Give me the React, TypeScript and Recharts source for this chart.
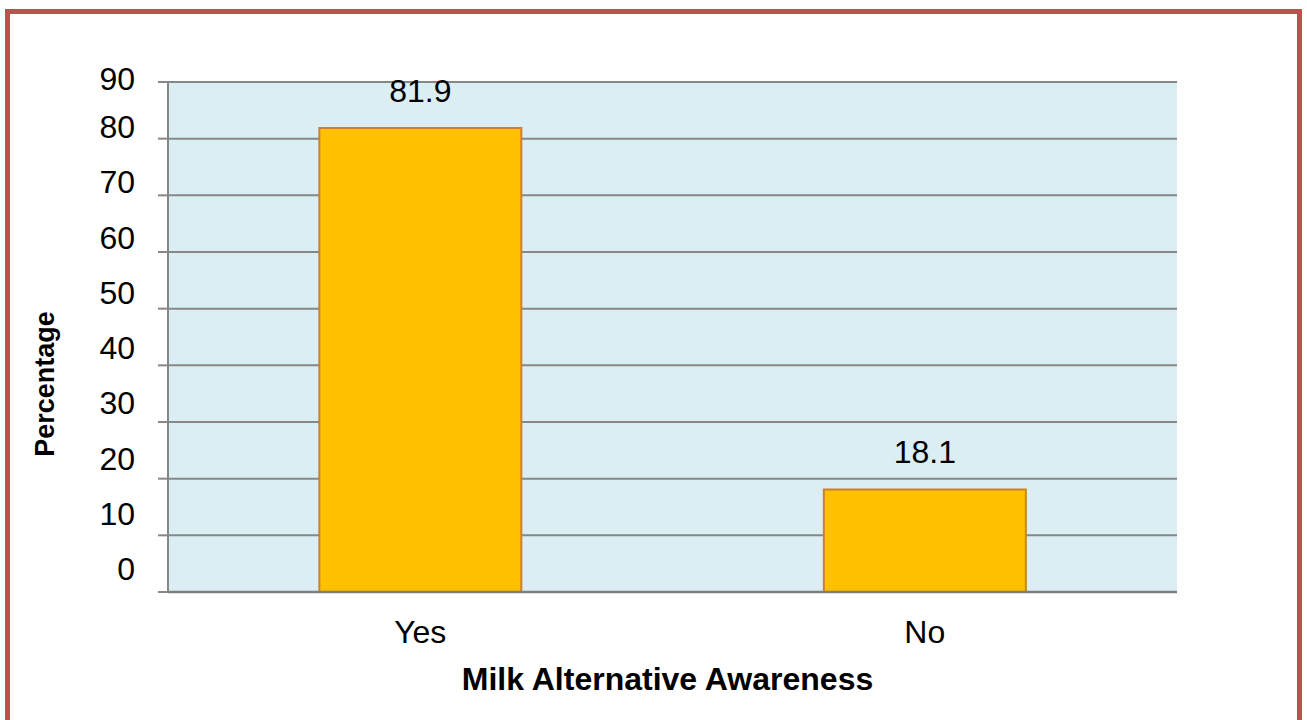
import React from "react";
import {
  BarChart,
  Bar,
  XAxis,
  YAxis,
  CartesianGrid,
  LabelList,
  Label,
} from "recharts";

const categories = ["Yes", "No"];
const percentages = [81.9, 18.1];
const yTicks = [0, 10, 20, 30, 40, 50, 60, 70, 80, 90];

const data = categories.map((name, i) => ({ name, value: percentages[i] }));

const FONT = "'Liberation Sans', Arial, sans-serif";
const GRID = "#878787";

// Excel draws the value axis labels slightly above their gridlines
function YTick(props: any) {
  const { x, y, payload } = props;
  let cy = y - 12 - (y - 139) * 0.025;
  if (cy < 79) cy = 79;
  return (
    <text
      x={x}
      y={cy + 11.4}
      textAnchor="end"
      fontSize={32}
      fontFamily={FONT}
      fill="#000"
    >
      {payload.value}
    </text>
  );
}

function YTitle(props: any) {
  const vb = props.viewBox || {};
  const cx = (vb.x || 0) + 54;
  const cy = (vb.y || 0) + vb.height / 2 + 47;
  return (
    <text
      x={cx}
      y={cy}
      transform={`rotate(-90, ${cx}, ${cy})`}
      textAnchor="middle"
      fontSize={27}
      fontWeight="bold"
      fontFamily={FONT}
      fill="#000"
    >
      Percentage
    </text>
  );
}

export default function App() {
  return (
    <div
      style={{
        position: "absolute",
        left: 0,
        top: 0,
        width: 1307,
        height: 720,
        overflow: "hidden",
        background: "#fff",
      }}
    >
      <BarChart
        width={1307}
        height={720}
        data={data}
        margin={{ top: 82, right: 130, bottom: 0, left: 0 }}
        barCategoryGap="30%"
      >
        <CartesianGrid
          vertical={false}
          stroke={GRID}
          strokeWidth={2}
          fill="#DAEEF3"
          fillOpacity={1}
        />
        <XAxis
          dataKey="name"
          height={128}
          axisLine={{ stroke: "#7F7F7F", strokeWidth: 2.5 }}
          tickLine={false}
          tickSize={0}
          tickMargin={28}
          tick={{ fontSize: 32, fontFamily: FONT, fill: "#000" }}
        >
          <Label
            value="Milk Alternative Awareness"
            position="insideBottom"
            offset={30}
            dx={-5}
            fontSize={32}
            fontWeight="bold"
            fontFamily={FONT}
            fill="#000"
          />
        </XAxis>
        <YAxis
          width={168}
          domain={[0, 90]}
          ticks={yTicks}
          interval={0}
          axisLine={{ stroke: GRID, strokeWidth: 2 }}
          tickLine={{ stroke: GRID, strokeWidth: 2 }}
          tickSize={10}
          tickMargin={23}
          tick={<YTick />}
        >
          <Label content={<YTitle />} />
        </YAxis>
        <Bar
          dataKey="value"
          fill="#FFC000"
          stroke="#CD7F32"
          strokeWidth={2}
          isAnimationActive={false}
        >
          <LabelList
            dataKey="value"
            position="top"
            offset={26}
            fontSize={32}
            fontFamily={FONT}
            fill="#000"
          />
        </Bar>
      </BarChart>
      <div
        style={{
          position: "absolute",
          left: 5,
          top: 9,
          width: 1297,
          height: 716,
          boxSizing: "border-box",
          border: "5px solid #C0504D",
          pointerEvents: "none",
        }}
      />
    </div>
  );
}
